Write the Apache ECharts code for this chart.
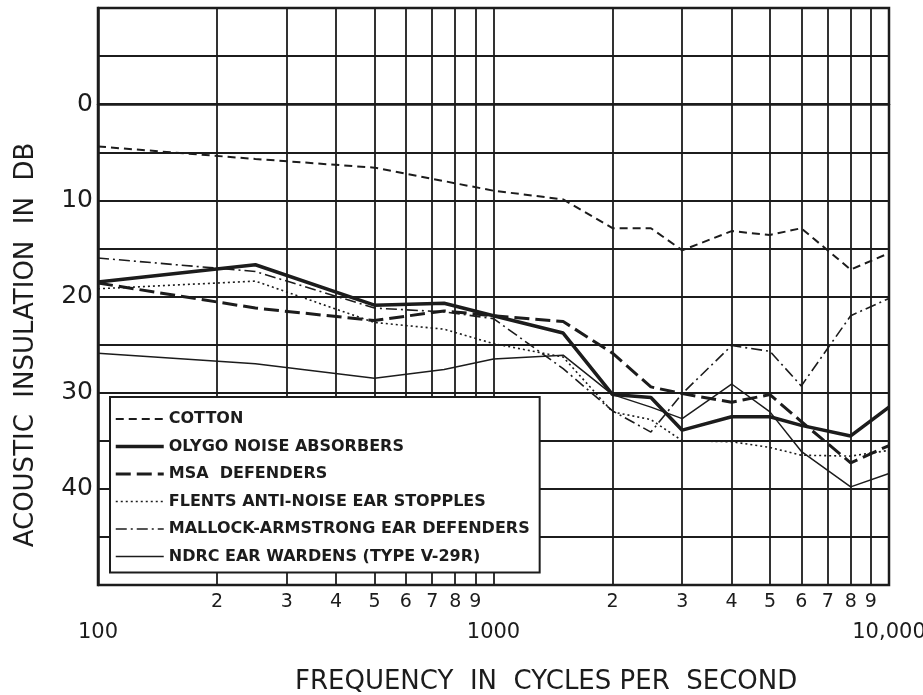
<!DOCTYPE html>
<html>
<head>
<meta charset="utf-8">
<script src="https://cdn.jsdelivr.net/npm/echarts@6/dist/echarts.min.js"></script>
<style>
  html, body { margin: 0; padding: 0; background: #fff; }
  #chart { width: 923px; height: 695px; }
</style>
</head>
<body>
<div id="chart"></div>
<script>
// ---- data (frequency in c/s, insulation in dB) ----
const freqs   = [100, 250, 500, 750, 1000, 1500, 2000, 2500, 3000, 4000, 5000, 6000, 8000, 10000];
const cotton  = [4.4, 5.7, 6.6, 8.0, 9.0, 9.9, 12.9, 12.9, 15.2, 13.2, 13.6, 12.9, 17.2, 15.5];
const olygo   = [18.5, 16.7, 20.9, 20.7, 22.0, 23.8, 30.2, 30.5, 33.9, 32.5, 32.5, 33.4, 34.5, 31.5];
const msa     = [18.6, 21.2, 22.5, 21.5, 22.0, 22.6, 25.9, 29.4, 30.1, 31.0, 30.2, 33.0, 37.3, 35.5];
const flents  = [19.2, 18.4, 22.7, 23.4, 24.9, 26.3, 32.0, 32.8, 35.0, 35.1, 35.7, 36.5, 36.6, 36.0];
const mallock = [16.0, 17.4, 21.2, 21.6, 22.3, 27.5, 31.9, 34.1, 30.1, 25.1, 25.7, 29.3, 22.0, 20.2];
const ndrc    = [25.9, 27.0, 28.5, 27.6, 26.5, 26.1, 30.2, 31.5, 32.7, 29.1, 32.0, 36.1, 39.8, 38.4];

const seriesNames = [
    'COTTON',
    'OLYGO NOISE ABSORBERS',
    'MSA  DEFENDERS',
    'FLENTS ANTI-NOISE EAR STOPPLES',
    'MALLOCK-ARMSTRONG EAR DEFENDERS',
    'NDRC EAR WARDENS (TYPE V-29R)'
];

// log grid: 100..900, 1000..9000, 10000
const gridFreqs = [100, 200, 300, 400, 500, 600, 700, 800, 900,
                   1000, 2000, 3000, 4000, 5000, 6000, 7000, 8000, 9000, 10000];
const decadeFreqs = [100, 1000, 10000];
const decadeLabels = ['100', '1000', '10,000'];

const ink = '#1c1c1c';
const font = "'DejaVu Sans', sans-serif";

// x axis is log10(frequency) on a value axis
const lg = f => Math.log10(f);
const toPairs = vals => freqs.map((f, i) => [lg(f), vals[i]]);

const styles = [
    { width: 2, type: [8, 5] },
    { width: 3.5, type: 'solid' },
    { width: 3, type: [15, 6] },
    { width: 1.6, type: [2, 3] },
    { width: 1.6, type: [11, 4, 2, 4] },
    { width: 1.5, type: 'solid' }
];
const allVals = [cotton, olygo, msa, flents, mallock, ndrc];

const chart = echarts.init(document.getElementById('chart'));

const option = {
    backgroundColor: '#fff',
    animation: false,
    grid: {
        left: 98, right: 34, top: 8, bottom: 110,
        outerBoundsMode: 'none',
        show: true, borderColor: ink, borderWidth: 2.5
    },
    title: {
        text: 'FREQUENCY  IN  CYCLES PER  SECOND',
        left: 290, top: 664,
        textStyle: { fontFamily: font, fontSize: 26, fontWeight: 'normal', color: ink }
    },
    graphic: [{
        type: 'text',
        x: 26, y: 345,
        rotation: Math.PI / 2,
        style: {
            text: 'ACOUSTIC  INSULATION  IN  DB',
            fontFamily: font, fontSize: 26, fill: ink,
            textAlign: 'center', textVerticalAlign: 'middle'
        }
    }],
    legend: {
        orient: 'vertical',
        left: 110, top: 397,
        padding: [14, 10, 8, 4],
        itemWidth: 48, itemHeight: 14, itemGap: 11.5,
        backgroundColor: '#fff',
        borderColor: ink, borderWidth: 2,
        itemStyle: { opacity: 0 },
        textStyle: { fontFamily: font, fontSize: 16, fontWeight: 'bold', color: ink },
        data: seriesNames.map((name, i) => ({
            name: name,
            itemStyle: { opacity: 0 },
            lineStyle: { color: ink, width: styles[i].width, type: styles[i].type }
        }))
    },
    xAxis: [{
        type: 'value', min: 2, max: 4,
        axisLine: { show: true, lineStyle: { color: ink, width: 2.5 } },
        axisTick: { show: false, customValues: gridFreqs.map(lg) },
        splitLine: { show: true, lineStyle: { color: ink, width: 1.8 } },
        axisLabel: {
            customValues: gridFreqs.filter(f => decadeFreqs.indexOf(f) < 0).map(lg),
            margin: 8,
            fontFamily: font, fontSize: 19, color: ink,
            formatter: v => {
                const f = Math.round(Math.pow(10, v));
                return String(Math.round(f / Math.pow(10, Math.floor(Math.log10(f)))));
            }
        }
    }, {
        type: 'value', min: 2, max: 4, position: 'bottom',
        axisLine: { show: false }, axisTick: { show: false }, splitLine: { show: false },
        axisLabel: {
            customValues: decadeFreqs.map(lg),
            margin: 37,
            fontFamily: font, fontSize: 21, color: ink,
            formatter: v => decadeLabels[decadeFreqs.indexOf(Math.round(Math.pow(10, v)))]
        }
    }],
    yAxis: {
        type: 'value', inverse: true, min: -10, max: 50, interval: 5,
        axisLine: { show: true, lineStyle: { color: ink, width: 2.5 } },
        axisTick: { show: false },
        splitLine: { show: true, lineStyle: { color: ink, width: 1.8 } },
        axisLabel: {
            margin: 5,
            fontFamily: font, fontSize: 25, color: ink,
            formatter: v => (v >= 0 && v <= 40 && v % 10 === 0) ? String(v) : ''
        }
    },
    series: seriesNames.map((name, i) => ({
        name: name,
        type: 'line',
        xAxisIndex: 0,
        symbol: 'none',
        lineStyle: { color: ink, width: styles[i].width, type: styles[i].type },
        itemStyle: { color: ink },
        data: toPairs(allVals[i])
    }))
};

chart.setOption(option);
</script>
</body>
</html>
